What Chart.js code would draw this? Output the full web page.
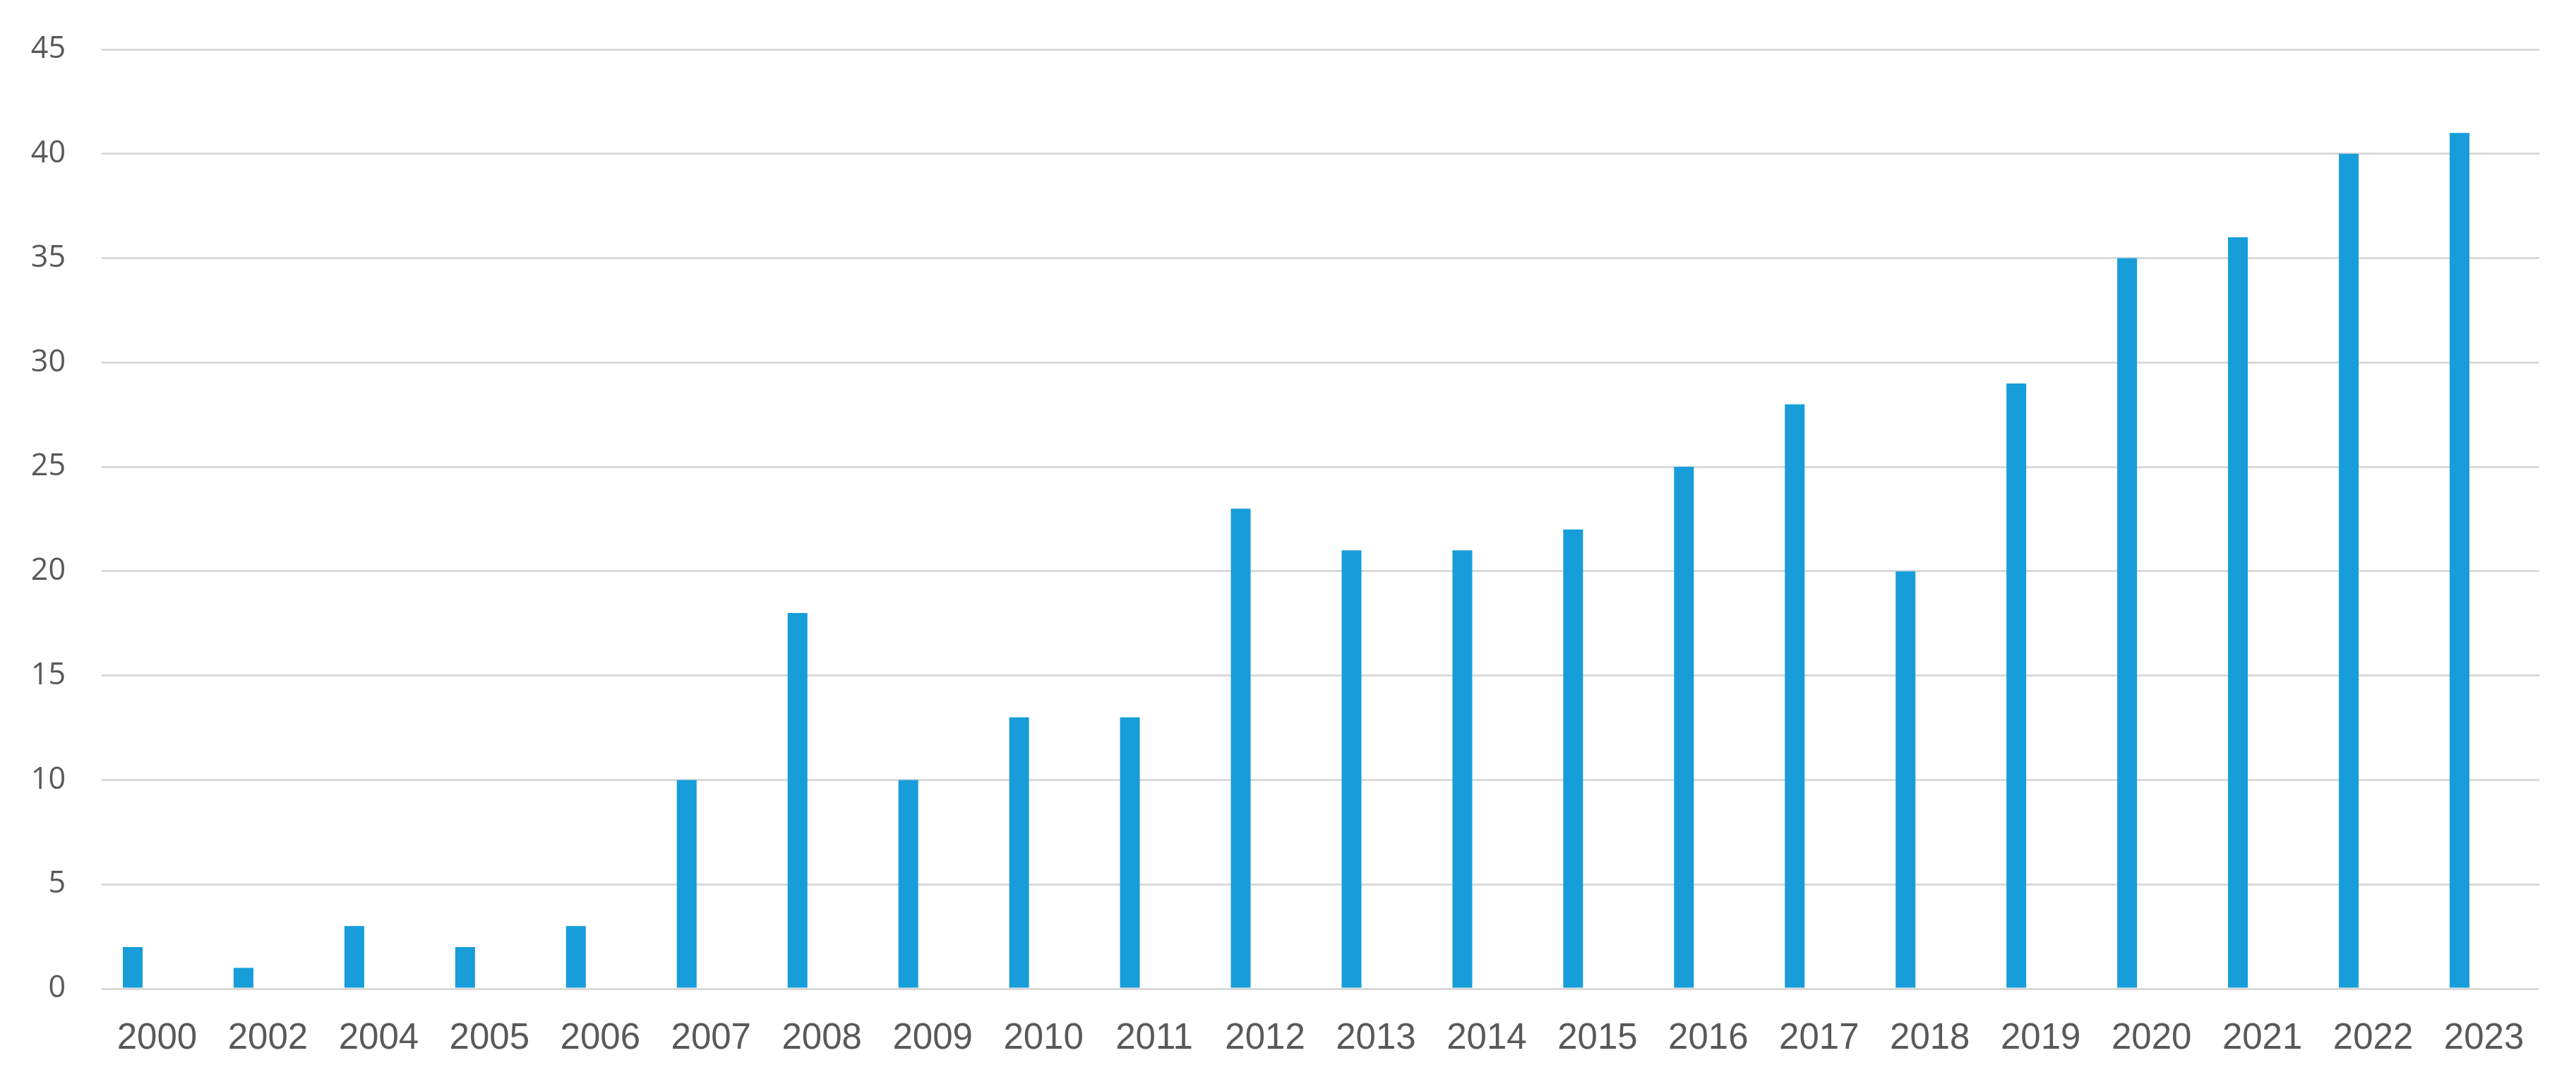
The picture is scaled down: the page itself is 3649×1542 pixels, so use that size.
<!DOCTYPE html>
<html>
<head>
<meta charset="utf-8">
<style>
  html, body { margin: 0; padding: 0; background: #ffffff; }
</style>
<script src="https://cdn.jsdelivr.net/npm/chart.js@4/dist/chart.umd.min.js"></script>
</head>
<body>
<canvas id="yearChart" width="3649" height="1542"></canvas>
<script>
const years = ["2000", "2002", "2004", "2005", "2006", "2007", "2008", "2009", "2010", "2011", "2012",
  "2013", "2014", "2015", "2016", "2017", "2018", "2019", "2020", "2021", "2022", "2023"];
const counts = [2, 1, 3, 2, 3, 10, 18, 10, 13, 13, 23, 21, 21, 22, 25, 28, 20, 29, 35, 36, 40, 41];
// empty second series, only there so the bars sit left of the label like in the original
const emptySeries = [0, 0, 0, 0, 0, 0, 0, 0, 0, 0, 0, 0, 0, 0, 0, 0, 0, 0, 0, 0, 0, 0];
const yTicks = [0, 5, 10, 15, 20, 25, 30, 35, 40, 45];

const barColor = "#179dd9";
const gridColor = "#d9d9d9";
const labelColor = "#595959";

let ctx = document.getElementById("yearChart");
let yearChart = new Chart(ctx, {
  type: "bar",
  data: {
    labels: years,
    datasets: [
      {
        label: "Count",
        data: counts,
        backgroundColor: barColor,
        borderWidth: 0,
        barPercentage: 0.406,
        categoryPercentage: 0.879,
      },
      {
        label: "",
        data: emptySeries,
        backgroundColor: "rgba(0,0,0,0)",
        borderWidth: 0,
        barPercentage: 0.406,
        categoryPercentage: 0.879,
      },
    ],
  },
  options: {
    responsive: false,
    animation: false,
    layout: { padding: { top: 70, right: 52, bottom: 0, left: 0 } },
    plugins: {
      legend: { display: false },
      tooltip: { enabled: false },
    },
    scales: {
      x: {
        grid: { display: false },
        border: { display: false },
        ticks: {
          color: labelColor,
          font: { family: "'Liberation Sans', Arial, sans-serif", size: 51 },
          padding: 32,
          maxRotation: 0,
          autoSkip: false,
        },
        afterFit: (scale) => { scale.height = 142; },
      },
      y: {
        min: 0,
        max: 45,
        afterBuildTicks: (scale) => { scale.ticks = yTicks.map((v) => ({ value: v })); },
        grid: { color: gridColor, lineWidth: 3, drawTicks: false },
        border: { display: false },
        ticks: {
          color: labelColor,
          font: { family: "'Open Sans', sans-serif", size: 43 },
          padding: 51,
        },
        afterFit: (scale) => {
          scale.width = 144;
          scale.paddingTop = 0;
          scale.paddingBottom = 0;
        },
      },
    },
  },
});
</script>
</body>
</html>
